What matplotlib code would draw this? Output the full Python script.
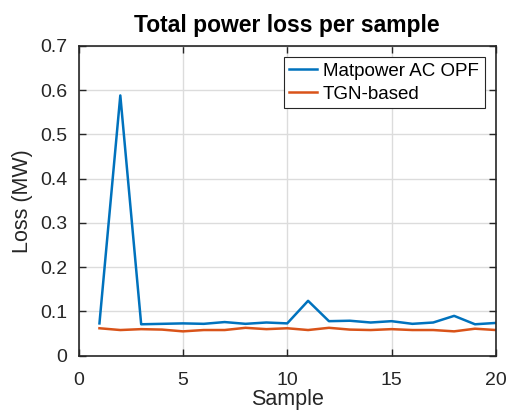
import numpy as np
import matplotlib.pyplot as plt

plt.rcParams['font.family'] = ['Liberation Sans', 'DejaVu Sans']

# Values
samples = np.arange(1, 21)
matpower_loss = [0.073, 0.588, 0.071, 0.072, 0.073, 0.072, 0.076, 0.072, 0.075, 0.073,
                 0.124, 0.078, 0.079, 0.075, 0.078, 0.072, 0.075, 0.090, 0.071, 0.074]
tgn_loss = [0.062, 0.058, 0.060, 0.059, 0.055, 0.058, 0.058, 0.063, 0.060, 0.062,
            0.058, 0.063, 0.059, 0.058, 0.060, 0.058, 0.058, 0.055, 0.061, 0.058]
x_ticks = [0, 5, 10, 15, 20]
y_ticks = [0, 0.1, 0.2, 0.3, 0.4, 0.5, 0.6, 0.7]

fig = plt.figure(figsize=(5.07, 4.17), dpi=100)
ax = fig.add_axes([0.155, 0.147, 0.823, 0.743])

ax.plot(samples, matpower_loss, color='#0072BD', linewidth=1.8, label='Matpower AC OPF')
ax.plot(samples, tgn_loss, color='#D95319', linewidth=1.8, label='TGN-based')

ax.set_xlim(0, 20)
ax.set_ylim(0, 0.7)
ax.set_xticks(x_ticks)
ax.set_yticks(y_ticks)
ax.set_yticklabels(['0', '0.1', '0.2', '0.3', '0.4', '0.5', '0.6', '0.7'])
ax.tick_params(direction='in', top=True, right=True, labelsize=14, length=5,
               width=1, colors='#262626')
ax.tick_params(axis='x', pad=12)
ax.tick_params(axis='y', pad=8)
for s in ax.spines.values():
    s.set_linewidth(1.2)
    s.set_color('#262626')
ax.grid(True, color='#dcdcdc', linewidth=1)

ax.set_xlabel('Sample', fontsize=15.5, color='#262626', labelpad=0)
ax.set_ylabel('Loss (MW)', fontsize=15.5, color='#262626', labelpad=5)
ax.set_title('Total power loss per sample', fontsize=16.5, fontweight='bold', pad=10)

leg = ax.legend(loc='upper right', fontsize=13.5, fancybox=False, framealpha=1,
                edgecolor='#262626', handlelength=1.45, handletextpad=0.35,
                borderaxespad=0.6, borderpad=0.3, labelspacing=0.3)
leg.get_frame().set_linewidth(0.8)

plt.savefig('out.png', dpi=100)
